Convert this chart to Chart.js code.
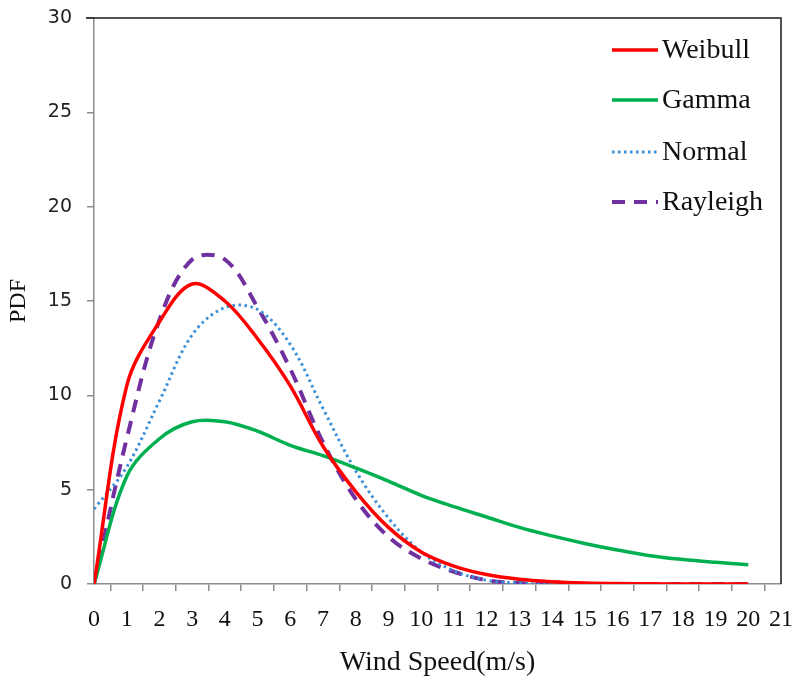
<!DOCTYPE html>
<html>
<head>
<meta charset="utf-8">
<script src="https://cdn.jsdelivr.net/npm/chart.js@4.4.0/dist/chart.umd.min.js"></script>
<style>
  html, body { margin: 0; padding: 0; background: #fff; }
</style>
</head>
<body>
<canvas id="chart" width="795" height="681"></canvas>
<script>
//Data
const windSpeed = [0, 1, 2, 3, 4, 5, 6, 7, 8, 9, 10, 11, 12, 13, 14, 15, 16, 17, 18, 19, 20];
const weibull = [0, 10.5, 13.9, 15.9, 15.0, 13.0, 10.5, 7.3, 4.9, 3.0, 1.7, 0.95, 0.5, 0.25, 0.12, 0.05, 0.02, 0.01, 0, 0, 0];
const gamma = [0, 5.7, 7.7, 8.6, 8.6, 8.1, 7.35, 6.8, 6.15, 5.45, 4.7, 4.1, 3.55, 3.0, 2.55, 2.15, 1.8, 1.5, 1.3, 1.15, 1.02];
const normal = [3.97, 6.2, 9.7, 13.2, 14.65, 14.55, 12.7, 9.3, 6.0, 3.5, 1.7, 0.7, 0.2, 0.05, 0, 0, 0, 0, 0, 0, 0];
const rayleigh = [0, 7.7, 14.0, 17.2, 17.2, 14.66, 11.4, 7.5, 4.5, 2.5, 1.35, 0.65, 0.2, 0.05, 0, 0, 0, 0, 0, 0, 0];
const seriesNames = ['Weibull', 'Gamma', 'Normal', 'Rayleigh'];

const ctx = document.getElementById('chart');
const serif = "'Liberation Serif', 'Times New Roman', serif";

const toPoints = values => windSpeed.map((x, i) => ({x: x, y: values[i]}));

//Frame on top/right and the legend inside the plot area
const framePlugin = {
    id: 'frame',
    afterDraw(chart) {
        const c = chart.ctx;
        const a = chart.chartArea;
        c.save();
        c.strokeStyle = '#1a1a1a';
        c.lineWidth = 1.5;
        c.beginPath();
        c.moveTo(a.left - 8, a.top);
        c.lineTo(a.right, a.top);
        c.lineTo(a.right, a.bottom);
        c.stroke();

        const rowsY = [50, 100, 152, 202];
        chart.data.datasets.forEach((ds, i) => {
            c.strokeStyle = ds.borderColor;
            c.lineWidth = ds.borderWidth;
            c.setLineDash(ds.borderDash || []);
            c.beginPath();
            c.moveTo(612, rowsY[i]);
            c.lineTo(658, rowsY[i]);
            c.stroke();
            c.setLineDash([]);
            c.fillStyle = '#111';
            c.font = '28px ' + serif;
            c.textBaseline = 'middle';
            c.fillText(ds.label, 662, rowsY[i] + 1);
        });
        c.restore();
    }
};

const chartData = {
    datasets: [{
        label: seriesNames[0],
        data: toPoints(weibull),
        borderColor: '#ff0000',
        borderWidth: 3.5
    }, {
        label: seriesNames[1],
        data: toPoints(gamma),
        borderColor: '#00b050',
        borderWidth: 3.5
    }, {
        label: seriesNames[2],
        data: toPoints(normal),
        borderColor: '#3a8fd6',
        borderWidth: 3,
        borderDash: [2.5, 3.5]
    }, {
        label: seriesNames[3],
        data: toPoints(rayleigh),
        borderColor: '#7030a0',
        borderWidth: 4,
        borderDash: [13, 9]
    }]
};

const config = {
    type: 'line',
    data: chartData,
    plugins: [framePlugin],
    options: {
        responsive: false,
        animation: false,
        layout: {
            padding: {top: 18, right: 14, left: 0, bottom: 0}
        },
        elements: {
            point: {radius: 0},
            line: {tension: 0.35, fill: false}
        },
        plugins: {
            legend: {display: false},
            tooltip: {enabled: false}
        },
        scales: {
            x: {
                type: 'linear',
                min: 0,
                max: 21,
                afterFit: scale => {
                    scale.height = 97;
                    scale.paddingLeft = 0;
                    scale.paddingRight = 0;
                },
                ticks: {
                    stepSize: 1,
                    padding: 14,
                    color: '#111',
                    font: {family: serif, size: 24}
                },
                grid: {
                    offset: true,
                    drawOnChartArea: false,
                    tickLength: 7,
                    color: '#8c8c8c',
                    lineWidth: 1.5
                },
                border: {color: '#8c8c8c', width: 1.5},
                title: {
                    display: true,
                    text: 'Wind Speed(m/s)',
                    color: '#111',
                    font: {family: serif, size: 28},
                    padding: {top: 0, bottom: 2}
                }
            },
            y: {
                min: 0,
                max: 30,
                afterFit: scale => {
                    scale.width = 94;
                    scale.paddingTop = 0;
                    scale.paddingBottom = 0;
                },
                ticks: {
                    stepSize: 5,
                    padding: 15,
                    color: '#222',
                    font: {family: "'DejaVu Sans', Verdana, sans-serif", size: 19}
                },
                grid: {
                    drawOnChartArea: false,
                    tickLength: 7,
                    color: '#8c8c8c',
                    lineWidth: 1.5
                },
                border: {color: '#8c8c8c', width: 1.5},
                title: {
                    display: true,
                    text: 'PDF',
                    color: '#111',
                    font: {family: serif, size: 24},
                    padding: {top: 4, bottom: 0}
                }
            }
        }
    }
};

const chart = new Chart(ctx, config);
</script>
</body>
</html>
